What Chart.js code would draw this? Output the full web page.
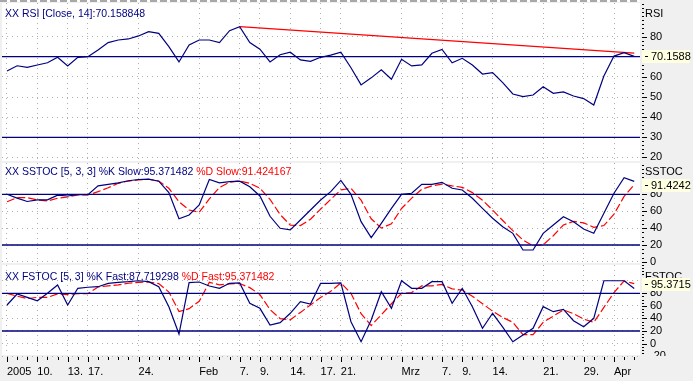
<!DOCTYPE html>
<html>
<head>
<meta charset="utf-8">
<script src="https://cdn.jsdelivr.net/npm/chart.js@4.4.1/dist/chart.umd.min.js"></script>
<style>
html,body{margin:0;padding:0;width:693px;height:381px;overflow:hidden;background:#f0f0f0;}
canvas{position:absolute;left:0;display:block;}
#strip{position:absolute;left:0;top:0;width:640px;height:2px;background:repeating-linear-gradient(90deg,#a8a8a8 0px,#a8a8a8 7px,#ffffff 7px,#ffffff 10px);}
</style>
</head>
<body>
<canvas id="cRsi" width="693" height="163" style="top:0px"></canvas>
<canvas id="cSlow" width="693" height="102" style="top:163px"></canvas>
<canvas id="cFast" width="693" height="116" style="top:265px"></canvas>
<div id="strip"></div>
<script>
// ---------- data ----------
const days = ['01-05','01-06','01-07','01-10','01-11','01-12','01-13','01-14','01-17','01-18','01-19','01-20','01-21','01-24','01-25','01-26','01-27','01-28','01-31',
'02-01','02-02','02-03','02-04','02-07','02-08','02-09','02-10','02-11','02-14','02-15','02-16','02-17','02-18','02-21','02-22','02-23','02-24','02-25','02-28',
'03-01','03-02','03-03','03-04','03-07','03-08','03-09','03-10','03-11','03-14','03-15','03-16','03-17','03-18','03-21','03-22','03-23','03-24','03-29','03-30','03-31',
'04-01','04-04','04-05'];
const tickDays = ['01-05','01-10','01-13','01-17','01-24','02-01','02-07','02-09','02-14','02-17','02-21','03-01','03-07','03-09','03-14','03-21','03-29','04-01'];
const tickText = ['2005','10.','13.','17.','24.','Feb','7.','9.','14.','17.','21.','Mrz','7.','9.','14.','21.','29.','Apr'];

const rsi = [62.9,65.5,64.7,65.9,67.0,69.7,65.4,69.7,70.0,73.3,
77.0,78.3,78.8,80.3,82.4,81.6,75.0,67.4,75.8,78.3,
78.3,77.0,82.9,84.9,77.0,73.7,67.4,71.0,72.2,68.4,
67.7,69.7,70.8,72.2,64.5,56.0,59.5,63.5,58.8,68.7,
65.4,65.9,71.7,73.6,67.0,69.2,65.9,61.4,62.1,57.1,
51.5,50.2,51.0,55.1,51.8,52.5,50.5,49.2,46.0,60.4,
70.3,72.0,70.16];
const rsiTrendDays = ['02-07','04-05'];
const rsiTrend = [84.9, 71.8];
const rsiLevels = [30, 70];
const rsiTicks = [20,30,40,50,60,70,80];

const slowK = [80,75.5,71.5,73.5,73.5,79,78,79.5,79.5,90,
91.8,93.5,96,97.5,98,95.5,82,51,55.5,67.3,
97.5,93.5,95,95.5,89,78,54,39.8,37.8,49.6,
61.4,73.3,83.1,96.5,80,47.6,28.7,45.7,63.4,80,
81.2,91.8,91.8,94.2,87.1,85.1,75.3,63.4,51.6,41.7,
33.8,14.1,14.1,33.8,43.7,53.5,47.6,38.9,33.8,57.5,
81.2,99.7,95.37];
const slowD = [71.2,76,76,73.3,72.1,75.3,76.8,79.2,79.2,83.1,
87.8,93,95.7,96.9,97.8,95.7,87.1,71.2,61.4,58.7,
74.5,88,94.2,95.7,93,87.1,74,56,43.5,43,
50.5,62.5,74,85.3,87,73,51,40,45,63.2,
75.5,86,90,92,90,88.3,82,73,61.4,49,
37,26,19,20.3,31,43.7,48,46.2,41,43,
56.5,77.5,91.42];
const fastK = [61.4,78.9,73.6,68.2,80,93.2,61.4,88,89.6,90.5,
95.9,97.5,98.5,100,98.5,90.5,58.7,15.2,97,98,
91.6,88,95.9,96.5,64.1,56.1,29.5,33.2,48.2,66.6,
63,95.9,95.9,96.5,34.8,2.9,37.5,82.5,56.1,100,
88,88,98.5,98.5,64.1,88,58.7,24.3,48.2,26,
2.9,13.6,24.3,58.7,50.7,54.5,36.4,26.8,40.2,100,
100,100,87.72];
const fastD = [80,75.5,71.5,73.5,73.5,79,78,79.5,79.5,90,
91.8,93.5,96,97.5,98,95.5,82,51,55.5,67.3,
97.5,93.5,95,95.5,89,78,54,39.8,37.8,49.6,
61.4,73.3,83.1,96.5,80,47.6,28.7,45.7,63.4,80,
81.2,91.8,91.8,94.2,87.1,85.1,75.3,63.4,51.6,41.7,
33.8,14.1,14.1,33.8,43.7,53.5,47.6,38.9,33.8,57.5,
81.2,99.7,95.37];
const stochLevels = [20, 80];
const slowTicks = [0,20,40,60,80];
const fastTicks = [-20,0,20,40,60,80,100];

// ---------- style ----------
const NAVY = '#000080', RED = '#ff0000', GRID = '#b0b0b0', PANEL = '#f0f0f0';
const FAMILY = "'Liberation Sans', Arial, sans-serif";
const FONT = {family: FAMILY, size: 11};
const X_MIN = -0.494, X_MAX = 62.57;

Chart.defaults.font.family = FAMILY;
Chart.defaults.font.size = 11;
Chart.defaults.color = '#000';

const xIdx = d => days.indexOf(d);
const pts = arr => arr.map((v, i) => ({x: i, y: v}));
const levelPts = v => [{x: X_MIN - 1, y: v}, {x: X_MAX + 1, y: v}];

function lineDs(data, color, dash, width) {
  return {data, borderColor: color, borderWidth: width || 1.2, borderDash: dash || [],
    pointRadius: 0, tension: 0, fill: false};
}

function xScale(showLabels) {
  return {
    type: 'linear', min: X_MIN, max: X_MAX, bounds: 'data',
    afterBuildTicks: s => { s.ticks = tickDays.map(d => ({value: xIdx(d)})); },
    ticks: {display: showLabels, autoSkip: false, maxRotation: 0, minRotation: 0, align: 'start',
      padding: 10, color: '#000', font: FONT, callback: (v, i) => tickText[i]},
    grid: {display: true, drawOnChartArea: true, drawTicks: false, color: GRID, lineWidth: 1},
    border: {display: false, dash: [1, 4]},
    afterFit: s => { s.height = showLabels ? 26 : 0; s.paddingLeft = 0; s.paddingRight = 0; }
  };
}
function yScale(min, max, tickVals, hidden) {
  return {
    type: 'linear', position: 'right', min, max, bounds: 'data',
    afterBuildTicks: s => { s.ticks = tickVals.map(v => ({value: v})); },
    ticks: {color: '#000', font: FONT, padding: 10, autoSkip: false,
      callback: v => hidden.includes(v) ? '' : String(v)},
    grid: {drawOnChartArea: true, drawTicks: false, color: GRID, lineWidth: 1},
    border: {display: false, dash: [1, 4]},
    afterFit: s => { s.width = 53; s.paddingTop = 0; s.paddingBottom = 0; }
  };
}

const panelPlugin = {
  id: 'panel',
  beforeDraw(chart) {
    const {ctx, chartArea: a, width, height} = chart;
    ctx.save();
    ctx.fillStyle = PANEL; ctx.fillRect(0, 0, width, height);
    ctx.fillStyle = '#ffffff'; ctx.fillRect(a.left, a.top, a.right - a.left, a.bottom - a.top);
    ctx.restore();
  },
  afterDraw(chart, args, o) {
    const {ctx, chartArea: a} = chart;
    const ys = chart.scales.y, xs = chart.scales.x;
    ctx.save();
    ctx.fillStyle = '#000';
    const start = Math.ceil(ys.min / o.minorStep) * o.minorStep;
    for (let v = start; v <= ys.max + 1e-9; v += o.minorStep) {
      const py = Math.round(ys.getPixelForValue(v));
      const major = o.majorVals.includes(Math.round(v * 1000) / 1000);
      ctx.fillRect(a.right + 2, py, major ? 5 : 2, 1);
    }
    if (o.xTicks) {
      ctx.fillStyle = PANEL;
      ctx.fillRect(a.right, a.bottom + 1, chart.width - a.right, chart.height - a.bottom);
      ctx.fillStyle = '#000';
      const majors = tickDays.map(xIdx);
      for (let i = 0; i < days.length; i++) {
        const px = Math.round(xs.getPixelForValue(i));
        ctx.fillRect(px, a.bottom + 2, 1, majors.includes(i) ? 5 : 3);
      }
    }
    ctx.font = '10.5px ' + FAMILY;
    ctx.textAlign = 'left';
    ctx.textBaseline = 'alphabetic';
    let tx = 5;
    for (const p of o.title) {
      ctx.fillStyle = p.color;
      ctx.fillText(p.text, tx, o.titleY);
      tx += ctx.measureText(p.text).width;
    }
    ctx.font = '11px ' + FAMILY;
    ctx.fillStyle = '#000';
    ctx.fillText(o.axisTitle, 645, o.axisTitleY);
    const by = Math.round(ys.getPixelForValue(o.badgeValue));
    ctx.fillStyle = '#ffffe1';
    ctx.fillRect(642, by - 6, 48, 13);
    ctx.fillStyle = '#000';
    ctx.fillRect(645, by, 3, 1);
    ctx.textBaseline = 'middle';
    ctx.fillText(o.badgeText, 651, by + 0.5);
    ctx.restore();
  }
};

function makeChart(id, datasets, yOpts, pad, showX, panelOpts) {
  return new Chart(document.getElementById(id), {
    type: 'line',
    data: {datasets},
    options: {
      responsive: false, animation: false, devicePixelRatio: 1, events: [],
      layout: {padding: pad},
      plugins: {legend: {display: false}, tooltip: {enabled: false}, panel: panelOpts},
      scales: {x: xScale(showX), y: yOpts}
    },
    plugins: [panelPlugin]
  });
}

// RSI panel
makeChart('cRsi', [
  ...rsiLevels.map(v => lineDs(levelPts(v), NAVY, [], 1.3)),
  lineDs(pts(rsi), NAVY),
  lineDs(rsiTrendDays.map((d, i) => ({x: xIdx(d), y: rsiTrend[i]})), RED, [], 1.3)
], yScale(18.24, 96.65, rsiTicks, [70]), {top: 3, bottom: 2, left: 2, right: 0}, false, {
  title: [{text: 'XX RSI [Close, 14]:70.158848', color: NAVY}], titleY: 17,
  axisTitle: 'RSI', axisTitleY: 17, badgeValue: 70.158848, badgeText: '70.1588',
  minorStep: 2, majorVals: rsiTicks, xTicks: false
});

// SSTOC panel
makeChart('cSlow', [
  ...stochLevels.map(v => lineDs(levelPts(v), NAVY, [], 1.3)),
  lineDs(pts(slowK), NAVY),
  lineDs(pts(slowD), RED, [8, 3])
], yScale(-1.30, 117.04, slowTicks, []), {top: 0, bottom: 2, left: 2, right: 0}, false, {
  title: [{text: 'XX SSTOC [5, 3, 3] %K Slow:95.371482 ', color: NAVY}, {text: '%D Slow:91.424167', color: RED}],
  titleY: 12, axisTitle: 'SSTOC', axisTitleY: 12, badgeValue: 91.424167, badgeText: '91.4242',
  minorStep: 5, majorVals: slowTicks, xTicks: false
});

// FSTOC panel
makeChart('cFast', [
  ...stochLevels.map(v => lineDs(levelPts(v), NAVY, [], 1.3)),
  lineDs(pts(fastK), NAVY),
  lineDs(pts(fastD), RED, [8, 3])
], yScale(-18.22, 125.06, fastTicks, [100]), {top: 0, bottom: 0, left: 2, right: 0}, true, {
  title: [{text: 'XX FSTOC [5, 3] %K Fast:87.719298 ', color: NAVY}, {text: '%D Fast:95.371482', color: RED}],
  titleY: 15, axisTitle: 'FSTOC', axisTitleY: 15, badgeValue: 95.371482, badgeText: '95.3715',
  minorStep: 5, majorVals: fastTicks, xTicks: true
});
</script>
</body>
</html>
